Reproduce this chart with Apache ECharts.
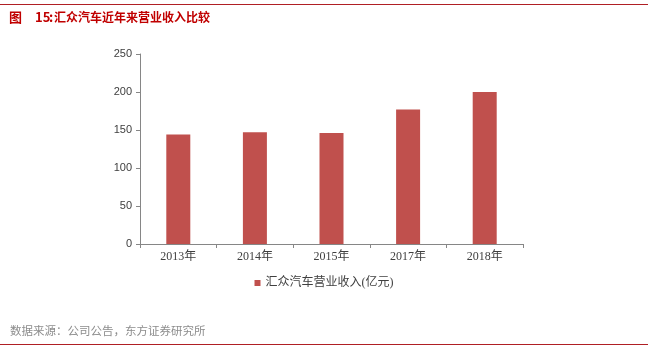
<!DOCTYPE html>
<html>
<head>
<meta charset="utf-8">
<script src="https://cdn.jsdelivr.net/npm/echarts@6/dist/echarts.min.js"></script>
<style>html,body{margin:0;padding:0;background:#fff;}#c{width:648px;height:351px;}</style>
</head>
<body>
<div id="c"></div>
<script>
var categories = ['2013年', '2014年', '2015年', '2017年', '2018年'];
var revenue = [144, 147, 146, 177, 200];
var yTicks = [0, 50, 100, 150, 200, 250];
var seriesName = '汇众汽车营业收入(亿元)';
var titleLabel = '图';
var titleNum = '15';
var titleColon = ':';
var titleText = '汇众汽车近年来营业收入比较';
var sourceText = '数据来源：公司公告，东方证券研究所';

var titleFont = 'bold 12px "Noto Sans CJK SC", sans-serif';
var bigFont = 'bold 13px "Noto Sans CJK SC", sans-serif';
var chart = echarts.init(document.getElementById('c'));
chart.setOption({
  animation: false,
  backgroundColor: '#fff',
  graphic: [
    {type: 'line', shape: {x1: 0, y1: 4.5, x2: 648, y2: 4.5}, style: {stroke: '#b01f24', lineWidth: 1}},
    {type: 'text', left: 9, top: 11, style: {text: titleLabel, fill: '#c00000', font: bigFont}},
    {type: 'text', left: 35, top: 11, style: {text: titleNum, fill: '#c00000', font: bigFont}},
    {type: 'text', left: 49, top: 11, style: {text: titleColon, fill: '#c00000', font: bigFont}},
    {type: 'text', left: 54, top: 11, style: {text: titleText, fill: '#c00000', font: titleFont}},
    {type: 'text', left: 10, top: 325, style: {text: sourceText, fill: '#8c8c8c', font: '11.5px "Noto Sans CJK SC", sans-serif'}},
    {type: 'line', shape: {x1: 0, y1: 344.5, x2: 648, y2: 344.5}, style: {stroke: '#b01f24', lineWidth: 1}}
  ],
  grid: {left: 140, right: 125, top: 54, bottom: 107},
  legend: {
    data: [seriesName],
    left: 'center',
    top: 272,
    itemWidth: 6, itemHeight: 6, itemGap: 4,
    icon: 'rect',
    textStyle: {fontFamily: '"Liberation Serif", "Noto Sans CJK SC", serif', fontSize: 12, color: '#404040'}
  },
  xAxis: {
    type: 'category',
    data: categories,
    axisLine: {lineStyle: {color: '#868686', width: 1}},
    axisTick: {show: true, alignWithLabel: false, length: 4, lineStyle: {color: '#868686'}},
    axisLabel: {fontFamily: '"Liberation Serif", "Noto Sans CJK SC", serif', fontSize: 12, color: '#404040', margin: 7}
  },
  yAxis: {
    type: 'value',
    min: 0, max: 250, interval: 50,
    axisLine: {show: true, lineStyle: {color: '#868686', width: 1}},
    axisTick: {show: true, length: 4, lineStyle: {color: '#868686'}},
    splitLine: {show: false},
    axisLabel: {fontFamily: '"Liberation Sans", Arial, sans-serif', fontSize: 11, color: '#404040', margin: 8,
      formatter: function (v) { return yTicks.indexOf(v) >= 0 ? String(v) : ''; }}
  },
  series: [{
    name: seriesName,
    type: 'bar',
    data: revenue,
    barWidth: 24,
    itemStyle: {color: '#c0504d'}
  }]
});
</script>
</body>
</html>
